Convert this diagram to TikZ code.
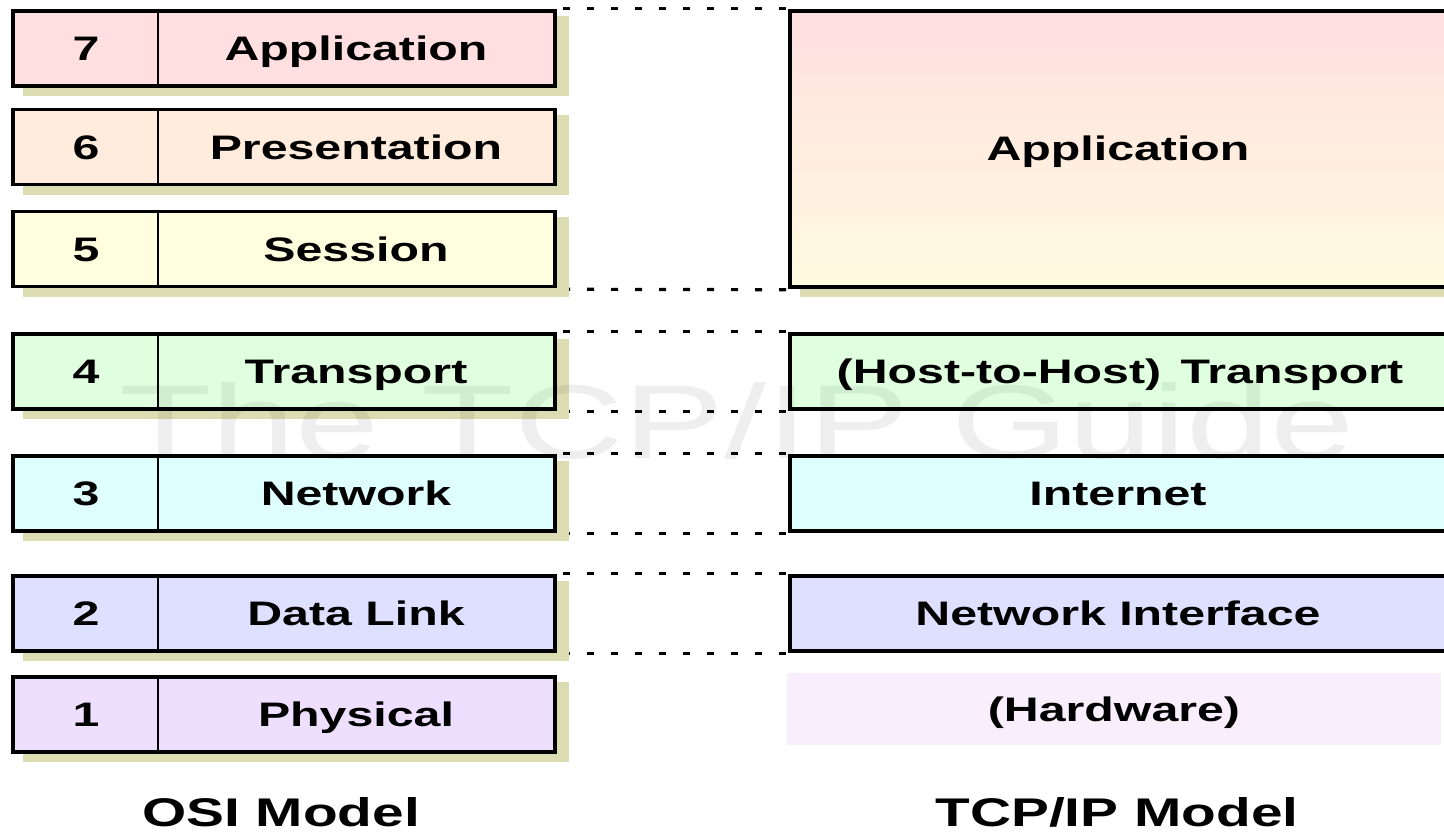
\documentclass[tikz,border=0pt]{standalone}
\usepackage{fontspec}
\setmainfont{Liberation Sans}
\newfontfamily\boxfont[FakeStretch=1.42]{Liberation Sans}
\newfontfamily\wmfont[FakeStretch=1.44]{Liberation Sans}
\usetikzlibrary{calc,backgrounds}
\definecolor{c7}{HTML}{FFDFDF}
\definecolor{c6}{HTML}{FFECDD}
\definecolor{c5}{HTML}{FFFFDF}
\definecolor{c4}{HTML}{DFFFDF}
\definecolor{c3}{HTML}{DFFFFF}
\definecolor{c2}{HTML}{DFDFFF}
\definecolor{c1}{HTML}{EEDFFF}
\definecolor{apptop}{HTML}{FFDFE0}
\definecolor{appbot}{HTML}{FFFBE0}
\definecolor{hwc}{HTML}{F8EEFC}
\definecolor{shadowc}{HTML}{DCDCB2}
\tikzset{
  osibox/.style={draw=black, line width=3.5pt, rectangle, minimum width=542pt,
    minimum height=75pt, anchor=north west, outer sep=0pt, inner sep=0pt},
  tcpbox/.style={draw=black, line width=3.5pt, rectangle, minimum width=656pt,
    minimum height=75pt, anchor=north west, outer sep=0pt, inner sep=0pt},
  lbl/.style={font=\boxfont\bfseries\fontsize{34}{40}\selectfont, anchor=base, inner sep=0pt},
  ttl/.style={font=\boxfont\bfseries\fontsize{40}{46}\selectfont, anchor=base, inner sep=0pt},
  dotline/.style={line width=3.2pt, dash pattern=on 7pt off 17pt, dash phase=16pt},
  divline/.style={line width=1.5pt},
  shade/.style={fill=shadowc}
}
\begin{document}
\begin{tikzpicture}[x=1pt,y=-1pt]
\useasboundingbox (0,0) rectangle (1444,834);
% OSI boxes
\node[osibox, fill=c7] (osi7) at (13,11.25) {};
\node[osibox, fill=c6] (osi6) at (13,109.75) {};
\node[osibox, fill=c5] (osi5) at (13,211.75) {};
\node[osibox, fill=c4] (osi4) at (13,334.25) {};
\node[osibox, fill=c3] (osi3) at (13,455.75) {};
\node[osibox, fill=c2] (osi2) at (13,575.75) {};
\node[osibox, fill=c1] (osi1) at (13,676.75) {};
\foreach \n in {osi7,osi6,osi5,osi4,osi3,osi2,osi1}
  \draw[divline] ([xshift=145pt]\n.north west) -- ([xshift=145pt]\n.south west);
% TCP/IP boxes
\node[tcpbox, minimum height=276pt, top color=apptop, bottom color=appbot] (tapp) at (790,11.25) {};
\node[tcpbox, fill=c4] (ttr) at (790,334.25) {};
\node[tcpbox, fill=c3] (tin) at (790,455.75) {};
\node[tcpbox, fill=c2] (tni) at (790,575.75) {};
\node[fill=hwc, minimum width=654pt, minimum height=72pt, anchor=north west, inner sep=0pt, outer sep=0pt] (thw) at (787,673) {};
% watermark
\node[font=\wmfont\fontsize{105}{110}\selectfont, text=black, opacity=0.065, anchor=base, inner sep=0pt] (wm) at (737,458) {The TCP/IP Guide};
% OSI labels
\node[lbl] (n7) at (86,61) {7};
\node[lbl] (l7) at (356,61) {Application};
\node[lbl] (n6) at (86,159.5) {6};
\node[lbl] (l6) at (356,159.5) {Presentation};
\node[lbl] (n5) at (86,261.5) {5};
\node[lbl] (l5) at (356,261.5) {Session};
\node[lbl] (n4) at (86,384) {4};
\node[lbl] (l4) at (356,384) {Transport};
\node[lbl] (n3) at (86,505.5) {3};
\node[lbl] (l3) at (356,505.5) {Network};
\node[lbl] (n2) at (86,625.5) {2};
\node[lbl] (l2) at (356,625.5) {Data Link};
\node[lbl] (n1) at (86,726.5) {1};
\node[lbl] (l1) at (356,726.5) {Physical};
% TCP/IP labels
\node[lbl] (ta) at (1118,161) {Application};
\node[lbl] (tt) at (1120,384) {(Host-to-Host)\hspace{6pt} Transport};
\node[lbl] (ti) at (1118,505.5) {Internet};
\node[lbl] (tn) at (1118,625.5) {Network Interface};
\node[lbl] (th) at (1114,721) {(Hardware)};
% titles
\node[ttl] (osit) at (281,826) {OSI Model};
\node[ttl] (tcpt) at (1117,826) {TCP/IP Model};
\begin{pgfonlayer}{background}
  \draw[dotline] ([yshift=2.5pt]osi7.north east) -- ([yshift=2.5pt]tapp.north west);
  \draw[dotline] ([yshift=-2.5pt]osi5.south east) -- ([yshift=-2.5pt]tapp.south west);
  \draw[dotline] ([yshift=2.5pt]osi4.north east) -- ([yshift=2.5pt]ttr.north west);
  \draw[dotline] ([yshift=-2.5pt]osi4.south east) -- ([yshift=-2.5pt]ttr.south west);
  \draw[dotline] ([yshift=2.5pt]osi3.north east) -- ([yshift=2.5pt]tin.north west);
  \draw[dotline] ([yshift=-2.5pt]osi3.south east) -- ([yshift=-2.5pt]tin.south west);
  \draw[dotline] ([yshift=2.5pt]osi2.north east) -- ([yshift=2.5pt]tni.north west);
  \draw[dotline] ([yshift=-2.5pt]osi2.south east) -- ([yshift=-2.5pt]tni.south west);
  \foreach \n in {osi7,osi6,osi5,osi4,osi3,osi2,osi1,tapp}
    \fill[shade] ([shift={(10pt,-5pt)}]\n.north west) rectangle ([shift={(14pt,-10pt)}]\n.south east);
\end{pgfonlayer}
\end{tikzpicture}
\end{document}
